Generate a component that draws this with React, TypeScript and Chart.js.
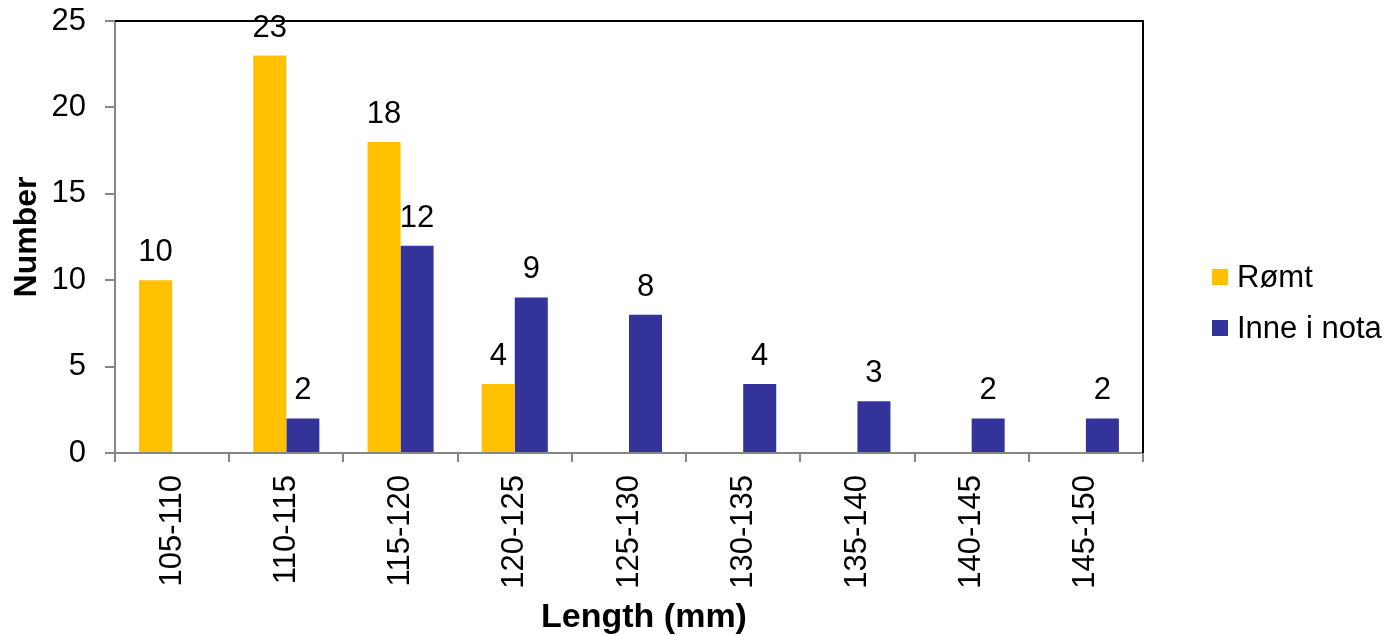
import React, { useEffect, useRef } from "react";
import { Chart, registerables } from "chart.js";

Chart.register(...registerables);

const categories = ["105-110", "110-115", "115-120", "120-125", "125-130", "130-135", "135-140", "140-145", "145-150"];
const romtValues = [10, 23, 18, 4, 0, 0, 0, 0, 0];
const inneValues = [0, 2, 12, 9, 8, 4, 3, 2, 2];
const seriesNames = ["Rømt", "Inne i nota"];
const seriesColors = ["#FFC000", "#333399"];
const yTicks = [0, 5, 10, 15, 20, 25];
const xTitle = "Length (mm)";
const yTitle = "Number";

const FONT = "'Liberation Sans', Arial, sans-serif";

const labelsPlugin = {
  id: "valueLabels",
  afterDatasetsDraw(chart: any) {
    const ctx = chart.ctx;
    ctx.save();
    ctx.font = `31px ${FONT}`;
    ctx.fillStyle = "#000";
    ctx.textAlign = "center";
    ctx.textBaseline = "alphabetic";
    chart.data.datasets.forEach((ds: any, di: number) => {
      const meta = chart.getDatasetMeta(di);
      meta.data.forEach((bar: any, i: number) => {
        const v = ds.data[i];
        if (!v) return;
        ctx.fillText(String(v), bar.x, bar.y - 19);
      });
    });
    ctx.restore();
  },
};

const framePlugin = {
  id: "frame",
  afterDraw(chart: any) {
    const { ctx, chartArea } = chart;
    ctx.save();
    ctx.strokeStyle = "#000";
    ctx.lineWidth = 2;
    ctx.beginPath();
    ctx.moveTo(chartArea.left, chartArea.top);
    ctx.lineTo(chartArea.right, chartArea.top);
    ctx.lineTo(chartArea.right, chartArea.bottom);
    ctx.stroke();
    // x title
    ctx.fillStyle = "#000";
    ctx.font = `bold 34px ${FONT}`;
    ctx.textAlign = "center";
    ctx.textBaseline = "alphabetic";
    ctx.fillText(xTitle, 644, 627);
    // legend
    ctx.font = `31px ${FONT}`;
    ctx.textBaseline = "middle";
    ctx.textAlign = "left";
    const ys = [277, 328];
    chart.data.datasets.forEach((ds: any, i: number) => {
      ctx.fillStyle = ds.backgroundColor;
      ctx.fillRect(1212, ys[i] - 8, 16, 16);
      ctx.fillStyle = "#000";
      ctx.fillText(ds.label, 1237, ys[i] + 1);
    });
    ctx.restore();
  },
};

export default function App() {
  const ref = useRef<HTMLCanvasElement | null>(null);
  useEffect(() => {
    if (!ref.current) return;
    const chart = new Chart(ref.current, {
      type: "bar",
      data: {
        labels: categories,
        datasets: [
          { label: seriesNames[0], data: romtValues, backgroundColor: seriesColors[0] },
          { label: seriesNames[1], data: inneValues, backgroundColor: seriesColors[1] },
        ],
      },
      options: {
        responsive: false,
        animation: false,
        devicePixelRatio: 1,
        layout: { padding: { top: 21, right: 245, left: 0, bottom: 0 } },
        datasets: { bar: { categoryPercentage: 0.578, barPercentage: 1 } },
        plugins: { legend: { display: false }, tooltip: { enabled: false } },
        scales: {
          x: {
            offset: true,
            grid: { offset: true, drawOnChartArea: false, drawTicks: true, tickLength: 9, color: "#868686", lineWidth: 2 },
            border: { color: "#868686", width: 2 },
            ticks: { color: "#000", font: { family: FONT, size: 31 }, minRotation: 90, maxRotation: 90, padding: 13, autoSkip: false },
            title: { display: false },
            afterFit(scale: any) {
              scale.height = 182;
              scale.paddingLeft = 0;
              scale.paddingRight = 0;
            },
          },
          y: {
            min: 0,
            max: 25,
            afterBuildTicks(scale: any) { scale.ticks = yTicks.map((v) => ({ value: v })); },
            grid: { drawOnChartArea: false, drawTicks: true, tickLength: 10, color: "#868686", lineWidth: 2 },
            border: { color: "#868686", width: 2 },
            ticks: { color: "#000", font: { family: FONT, size: 31 }, padding: 19 },
            title: { display: true, text: yTitle, color: "#000", font: { family: FONT, size: 32, weight: "bold" }, padding: { top: 8, bottom: 0 } },
            afterFit(scale: any) {
              scale.width = 115;
              scale.paddingTop = 0;
              scale.paddingBottom = 0;
            },
          },
        },
      },
      plugins: [labelsPlugin, framePlugin],
    } as any);
    return () => chart.destroy();
  }, []);
  return (
    <div style={{ position: "absolute", left: 0, top: 0, width: 1388, height: 635, background: "#fff" }}>
      <canvas ref={ref} width={1388} height={635} style={{ width: 1388, height: 635, display: "block" }} />
    </div>
  );
}
